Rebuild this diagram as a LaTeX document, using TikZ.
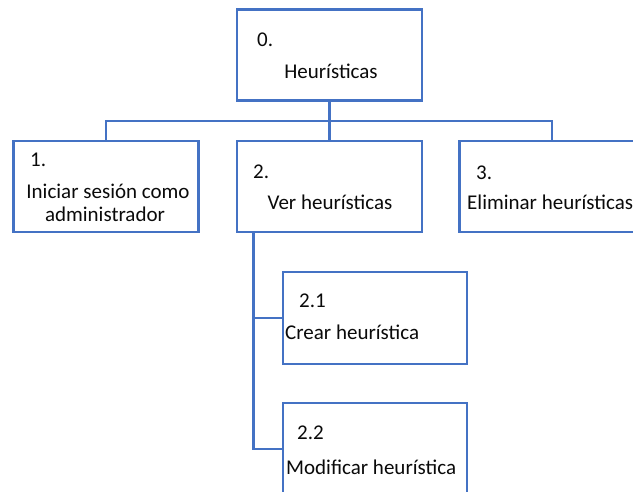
\documentclass[tikz,border=0pt]{standalone}
\usepackage{fontspec}
\setmainfont{Carlito}
\definecolor{boxblue}{RGB}{68,114,196}
\definecolor{txt}{RGB}{10,10,10}
\begin{document}
\begin{tikzpicture}[x=1pt,y=-1pt,
  box/.style={draw=boxblue,line width=2.6pt,fill=white,rectangle,inner sep=0pt,minimum width=185pt,minimum height=91pt},
  conn/.style={draw=boxblue,line width=2.6pt},
  lbl/.style={inner sep=0pt,text=txt,font=\fontsize{21}{25}\selectfont},
  lw/.style={lbl,anchor=base west},
  lc/.style={lbl,anchor=base}]
\useasboundingbox (0,0) rectangle (633,492);
% boxes
\node[box] (b0) at (329.5,55) {};
\node[box] (b1) at (106,186.5) {};
\node[box] (b2) at (329.5,186.5) {};
\node[box] (b3) at (552,186.5) {};
\node[box,minimum width=184pt,minimum height=92pt] (b21) at (375,318) {};
\node[box,minimum width=184pt,minimum height=92pt] (b22) at (375,449) {};
% connectors
\coordinate (bus) at (0,121);
\draw[conn] (b0.south) -- (b2.north);
\draw[conn] (b1.north) -- (b1.north |- bus) -- (b3.north |- bus) -- (b3.north);
\coordinate (trunk) at ([xshift=18pt]b2.south west);
\draw[conn] (trunk) |- (b21.west);
\draw[conn] (trunk) |- (b22.west);
% texts
\node[lw] (t0n) at (257,46.5) {0.};
\node[lc] (t0) at (331,79) {Heurísticas};
\node[lw] (t1n) at (30,166.5) {1.};
\node[lc] (t1a) at (108,199) {Iniciar sesión como};
\node[lc] (t1b) at (105,222) {administrador};
\node[lw] (t2n) at (253,178.5) {2.};
\node[lc] (t2) at (330,210) {Ver heurísticas};
\node[lw] (t3n) at (476,179.5) {3.};
\node[lw] (t3) at (467,210) {Eliminar heurísticas};
\node[lw] (t21n) at (299,307.5) {2.1};
\node[lw] (t21) at (285,340) {Crear heurística};
\node[lw] (t22n) at (297,439.5) {2.2};
\node[lw] (t22) at (286,474) {Modificar heurística};
\end{tikzpicture}
\end{document}
